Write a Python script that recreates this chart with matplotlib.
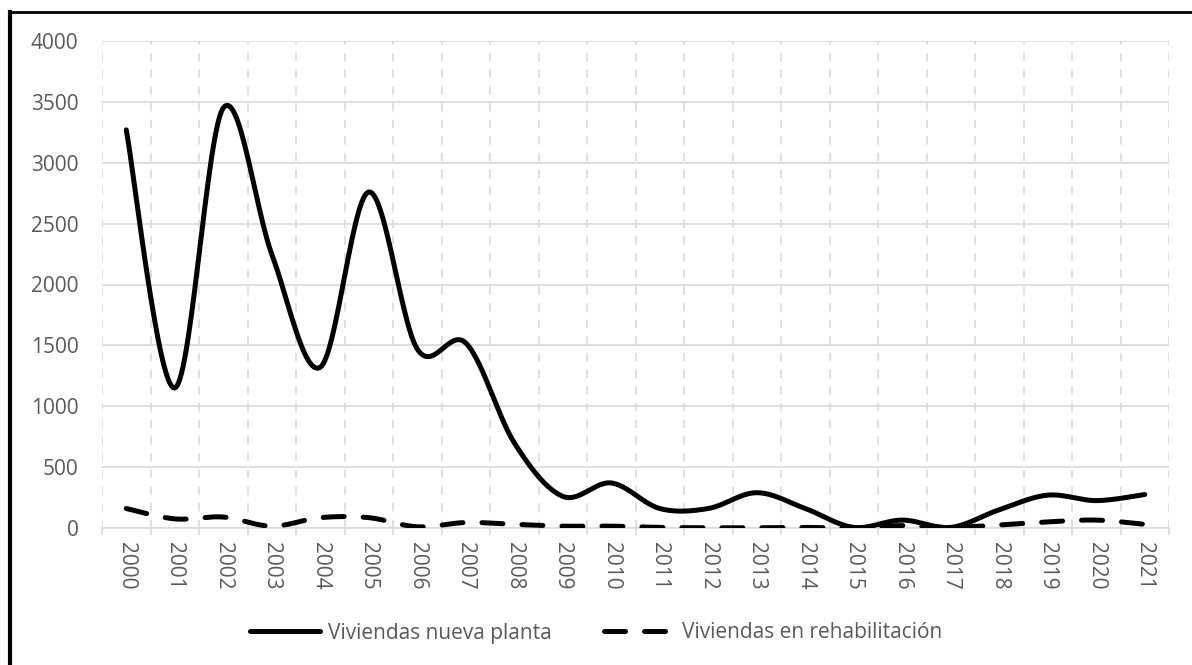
import numpy as np
import matplotlib
matplotlib.use("Agg")
import matplotlib.pyplot as plt
from matplotlib.lines import Line2D

years = [str(y) for y in range(2000, 2022)]
nueva_planta = [3270, 1150, 3450, 2250, 1320, 2760, 1470, 1520, 700, 260,
                370, 160, 160, 290, 160, 5, 65, 5, 150, 270, 225, 275]
rehabilitacion = [160, 75, 90, 15, 85, 85, 10, 45, 30, 15,
                  15, 5, 2, 2, 5, 0, 20, 5, 25, 50, 65, 30]
y_ticks = [0, 500, 1000, 1500, 2000, 2500, 3000, 3500, 4000]
label_a = "Viviendas nueva planta"
label_b = "Viviendas en rehabilitación"

plt.rcParams['font.family'] = ['Open Sans', 'DejaVu Sans']
TXT = '#595959'
FS = 15


def smooth(xs, ys, n=30):
    xs = np.asarray(xs, float)
    ys = np.asarray(ys, float)
    P = np.column_stack([xs, ys])
    out = [P[0]]
    m = len(P)
    for i in range(m - 1):
        p0 = P[i - 1] if i > 0 else P[i]
        p1 = P[i]
        p2 = P[i + 1]
        p3 = P[i + 2] if i + 2 < m else P[i + 1]
        c1 = p1 + (p2 - p0) / 6.0
        c2 = p2 - (p3 - p1) / 6.0
        t = np.linspace(0, 1, n)[1:, None]
        seg = ((1 - t) ** 3) * p1 + 3 * ((1 - t) ** 2) * t * c1 + 3 * (1 - t) * t ** 2 * c2 + t ** 3 * p2
        out.extend(seg)
    out = np.array(out)
    return out[:, 0], out[:, 1]


fig = plt.figure(figsize=(11.92, 6.65), dpi=100)
ax = fig.add_axes([102 / 1192, 1 - 528 / 665, (1169 - 102) / 1192, (528 - 41) / 665])

DASH = (4.2, 3.8)
x = np.arange(len(years))
sx, sy = smooth(x, nueva_planta)
ax.plot(sx, sy, color='black', lw=3.6, solid_capstyle='round', zorder=3)
rx, ry = smooth(x, rehabilitacion)
ax.plot(rx, ry, color='black', lw=3.6, dashes=DASH, dash_capstyle='round', zorder=3)

ax.set_xlim(-0.5, len(years) - 0.5)
ax.set_ylim(0, 4000)
ax.set_yticks(y_ticks)
ax.set_yticklabels([str(v) for v in y_ticks])
ax.set_xticks(x)
ax.set_xticklabels(years, rotation=-90)
ax.set_xticks(np.arange(-0.5, len(years), 1.0), minor=True)

ax.grid(axis='y', which='major', color='#d9d9d9', lw=1.2, ls='-', zorder=0)
ax.grid(axis='x', which='minor', color='#d9d9d9', lw=1.2, ls=(0, (5, 5)), zorder=0)
ax.grid(axis='x', which='major', visible=False)

for s in ['top', 'right', 'left']:
    ax.spines[s].set_visible(False)
ax.spines['bottom'].set_color('#d9d9d9')
ax.spines['bottom'].set_linewidth(1.2)

ax.tick_params(axis='y', length=0, pad=17, labelsize=FS, labelcolor=TXT)
ax.tick_params(axis='x', which='major', length=0, pad=10, labelsize=FS, labelcolor=TXT)
ax.tick_params(axis='x', which='minor', length=5, color='#d9d9d9', width=1.2)

h1 = Line2D([], [], color='black', lw=3.6, solid_capstyle='round')
h2 = Line2D([], [], color='black', lw=3.6, dashes=DASH, dash_capstyle='round')
leg = fig.legend([h1, h2], [label_a, label_b], loc='center',
                 bbox_to_anchor=(0.5, 1 - 633 / 665), ncol=2, frameon=False,
                 fontsize=FS, handlelength=3.35, handletextpad=0.4, columnspacing=2.5)
for t in leg.get_texts():
    t.set_color(TXT)

# outer chart border (top and left visible)
fig.add_artist(Line2D([10 / 1192, 10 / 1192], [0, 1 - 12 / 665], transform=fig.transFigure,
                      color='black', lw=3.0))
fig.add_artist(Line2D([9 / 1192, 1], [1 - 12 / 665, 1 - 12 / 665], transform=fig.transFigure,
                      color='black', lw=2.0))

fig.savefig('out.png', dpi=100)
